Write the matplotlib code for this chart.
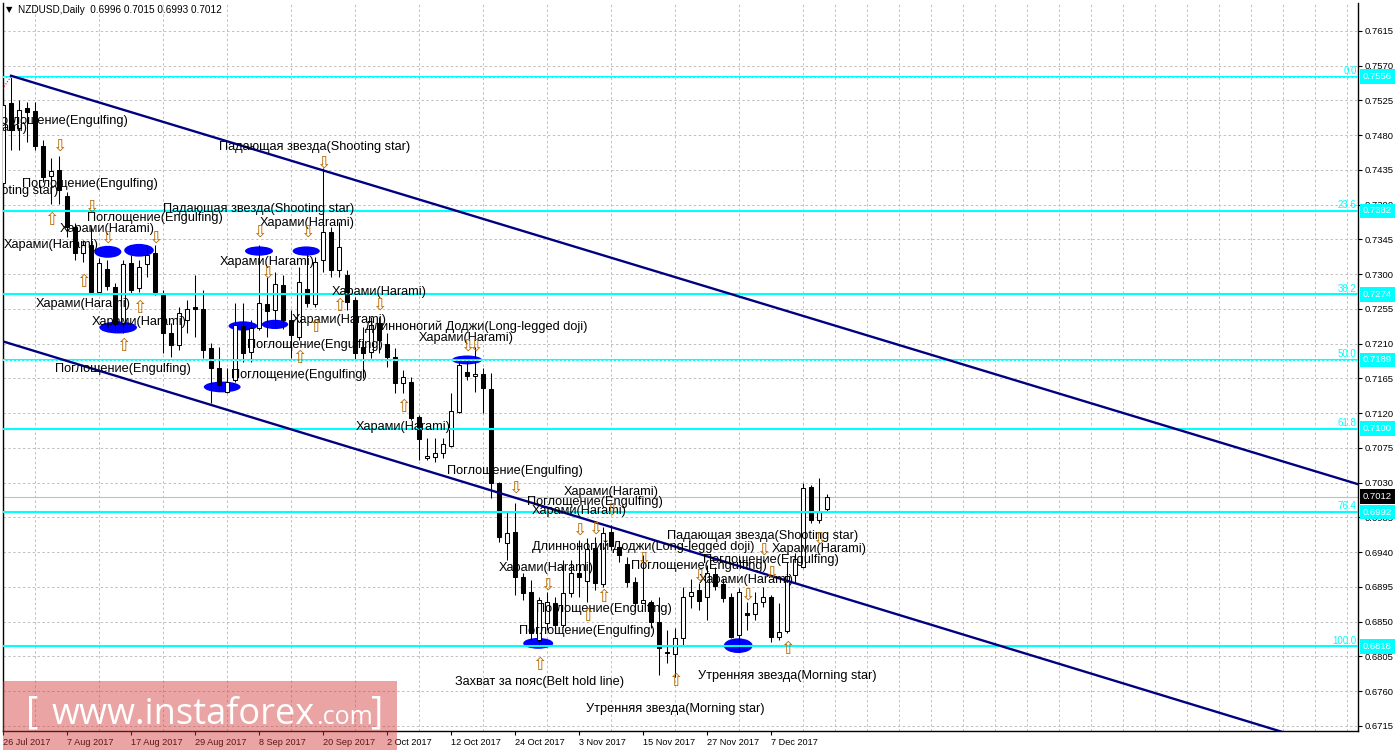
import matplotlib
matplotlib.use("Agg")
import matplotlib.pyplot as plt
import matplotlib.ticker as ticker
from matplotlib.patches import Ellipse, Rectangle
import numpy as np
import pandas as pd

plt.rcParams['font.family'] = ['Liberation Sans', 'DejaVu Sans']

##### Data #####

# Daily NZDUSD candles from 26 Jul 2017
opens = [
    0.7418, 0.7522, 0.7489, 0.7515, 0.7511, 0.7466, 0.7427, 0.7435, 0.7401, 0.7361,
    0.7327, 0.7338, 0.7277, 0.7307, 0.7283, 0.7237, 0.7315, 0.7282, 0.7313, 0.7327,
    0.7273, 0.7224, 0.7208, 0.7241, 0.7258, 0.7255, 0.7204, 0.7179, 0.7148, 0.7163,
    0.7233, 0.7199, 0.7230, 0.7261, 0.7254, 0.7286, 0.7241, 0.7219, 0.7281, 0.7261,
    0.7318, 0.7355, 0.7305, 0.7299, 0.7267, 0.7206, 0.7199, 0.7237, 0.7210, 0.7193,
    0.7159, 0.7160, 0.7115, 0.7062, 0.7063, 0.7069, 0.7078, 0.7122, 0.7173, 0.7168,
    0.7171, 0.7151, 0.7029, 0.6952, 0.6966, 0.6908, 0.6889, 0.6826, 0.6848, 0.6874,
    0.6846, 0.6887, 0.6913, 0.6903, 0.6945, 0.6899, 0.6966, 0.6947, 0.6925, 0.6902,
    0.6874, 0.6876, 0.6850, 0.6809, 0.6808, 0.6829, 0.6883, 0.6891, 0.6882, 0.6912,
    0.6899, 0.6882, 0.6833, 0.6861, 0.6860, 0.6876, 0.6882, 0.6830, 0.6838, 0.6910,
    0.6921, 0.7025, 0.6982, 0.6996]
highs = [
    0.7528, 0.7556, 0.7526, 0.7523, 0.7523, 0.7474, 0.7451, 0.7453, 0.7407, 0.7366,
    0.7344, 0.7361, 0.7321, 0.7318, 0.7289, 0.7318, 0.7325, 0.7318, 0.7335, 0.7338,
    0.7280, 0.7237, 0.7258, 0.7267, 0.7299, 0.7280, 0.7211, 0.7206, 0.7179, 0.7263,
    0.7263, 0.7241, 0.7338, 0.7296, 0.7303, 0.7299, 0.7254, 0.7309, 0.7327, 0.7322,
    0.7438, 0.7361, 0.7368, 0.7305, 0.7271, 0.7232, 0.7245, 0.7245, 0.7224, 0.7204,
    0.7176, 0.7167, 0.7118, 0.7088, 0.7088, 0.7088, 0.7146, 0.7193, 0.7192, 0.7206,
    0.7179, 0.7172, 0.7031, 0.6992, 0.7004, 0.6913, 0.6904, 0.6882, 0.6889, 0.6882,
    0.6930, 0.6930, 0.6956, 0.6958, 0.6960, 0.6973, 0.6975, 0.6953, 0.6934, 0.6908,
    0.6936, 0.6878, 0.6882, 0.6839, 0.6842, 0.6895, 0.6905, 0.6900, 0.6923, 0.6921,
    0.6907, 0.6887, 0.6894, 0.6876, 0.6889, 0.6895, 0.6885, 0.6874, 0.6927, 0.6939,
    0.7030, 0.7027, 0.7036, 0.7015]
lows = [
    0.7416, 0.7461, 0.7461, 0.7471, 0.7461, 0.7419, 0.7391, 0.7391, 0.7348, 0.7318,
    0.7316, 0.7276, 0.7276, 0.7280, 0.7228, 0.7224, 0.7276, 0.7277, 0.7296, 0.7273,
    0.7198, 0.7193, 0.7202, 0.7224, 0.7219, 0.7192, 0.7133, 0.7150, 0.7146, 0.7160,
    0.7186, 0.7186, 0.7228, 0.7219, 0.7230, 0.7229, 0.7192, 0.7215, 0.7258, 0.7258,
    0.7303, 0.7296, 0.7296, 0.7254, 0.7189, 0.7166, 0.7192, 0.7198, 0.7180, 0.7146,
    0.7146, 0.7111, 0.7059, 0.7059, 0.7057, 0.7062, 0.7076, 0.7120, 0.7163, 0.7148,
    0.7120, 0.7010, 0.6953, 0.6930, 0.6885, 0.6878, 0.6826, 0.6820, 0.6839, 0.6839,
    0.6843, 0.6882, 0.6882, 0.6876, 0.6891, 0.6895, 0.6943, 0.6927, 0.6895, 0.6865,
    0.6874, 0.6842, 0.6781, 0.6796, 0.6778, 0.6820, 0.6868, 0.6865, 0.6852, 0.6891,
    0.6876, 0.6829, 0.6811, 0.6839, 0.6852, 0.6869, 0.6824, 0.6826, 0.6835, 0.6900,
    0.6920, 0.6978, 0.6978, 0.6993]
closes = [
    0.7519, 0.7487, 0.7513, 0.7510, 0.7466, 0.7426, 0.7434, 0.7409, 0.7361, 0.7327,
    0.7338, 0.7277, 0.7315, 0.7285, 0.7236, 0.7313, 0.7280, 0.7309, 0.7325, 0.7277,
    0.7224, 0.7208, 0.7250, 0.7255, 0.7255, 0.7202, 0.7179, 0.7157, 0.7160, 0.7234,
    0.7198, 0.7230, 0.7263, 0.7252, 0.7287, 0.7241, 0.7221, 0.7290, 0.7263, 0.7316,
    0.7355, 0.7305, 0.7335, 0.7264, 0.7198, 0.7198, 0.7234, 0.7215, 0.7193, 0.7159,
    0.7167, 0.7114, 0.7087, 0.7065, 0.7069, 0.7080, 0.7123, 0.7182, 0.7168, 0.7171,
    0.7153, 0.7030, 0.6960, 0.6965, 0.6908, 0.6887, 0.6835, 0.6878, 0.6876, 0.6846,
    0.6887, 0.6913, 0.6908, 0.6944, 0.6900, 0.6965, 0.6948, 0.6936, 0.6902, 0.6874,
    0.6878, 0.6850, 0.6816, 0.6811, 0.6829, 0.6882, 0.6889, 0.6877, 0.6913, 0.6896,
    0.6881, 0.6830, 0.6889, 0.6859, 0.6874, 0.6882, 0.6830, 0.6837, 0.6909, 0.6931,
    0.7023, 0.6982, 0.6992, 0.7012]
start_date = '2017-07-26'
symbol_header = 'NZDUSD,Daily  0.6996 0.7015 0.6993 0.7012'
bid_price = 0.7012

# Fibonacci retracement levels
fib_levels = [0.7556, 0.7382, 0.7274, 0.7189, 0.7100, 0.6992, 0.6818]
fib_names = ['0.0', '23.6', '38.2', '50.0', '61.8', '76.4', '100.0']
fib_base_x = [1, -3]
fib_base_y = [0.7556, 0.7495]

# Descending channel (bar index, price)
upper_x = [1, 169.4]
upper_y = [0.7557, 0.7028]
lower_x = [0, 160]
lower_y = [0.7213, 0.6707]

# Candlestick pattern labels (text, bar, price)
ENG = 'Поглощение(Engulfing)'
HAR = 'Харами(Harami)'
SHS = 'Падающая звезда(Shooting star)'
LLD = 'Длинноногий Доджи(Long-legged doji)'
BHL = 'Захват за пояс(Belt hold line)'
MST = 'Утренняя звезда(Morning star)'
pattern_labels = [
    (ENG, 7.1, 0.7498), (HAR, -2.9, 0.7489), (SHS, -5.1, 0.7408), (ENG, 10.9, 0.7417),
    (ENG, 19.0, 0.7373), (SHS, 32.0, 0.7384), (HAR, 13.0, 0.7359), (HAR, 6.0, 0.7338),
    (HAR, 38.0, 0.7366), (SHS, 39.0, 0.7465), (HAR, 33.0, 0.7316), (HAR, 10.0, 0.7262),
    (HAR, 17.0, 0.7238), (ENG, 15.0, 0.7177), (ENG, 39.0, 0.7208), (ENG, 37.0, 0.7169),
    (HAR, 47.0, 0.7277), (HAR, 42.0, 0.7241), (LLD, 59.1, 0.7232), (HAR, 57.9, 0.7217),
    (HAR, 50.0, 0.7102), (ENG, 64.0, 0.7045), (HAR, 76.0, 0.7018), (ENG, 74.0, 0.7005),
    (HAR, 72.0, 0.6993), (LLD, 80.0, 0.6947), (HAR, 67.9, 0.6920), (ENG, 87.0, 0.6922),
    (ENG, 75.1, 0.6867), (ENG, 73.0, 0.6838), (BHL, 67.1, 0.6772), (MST, 84.1, 0.6737),
    (MST, 98.0, 0.6780), (SHS, 95.0, 0.6961), (HAR, 102.0, 0.6944), (ENG, 96.0, 0.6930),
    (HAR, 92.9, 0.6904)]

# Signal arrows (bar, price, direction)
signal_arrows = [
    (7, 0.7466, 'd'), (6, 0.7370, 'u'), (11, 0.7387, 'd'), (13, 0.7347, 'd'),
    (19, 0.7347, 'd'), (32, 0.7355, 'd'), (38, 0.7355, 'd'), (40, 0.7444, 'd'),
    (10, 0.7290, 'u'), (17, 0.7256, 'u'), (15, 0.7207, 'u'), (33, 0.7302, 'd'),
    (37, 0.7192, 'u'), (39, 0.7232, 'u'), (42, 0.7259, 'u'), (47, 0.7260, 'd'),
    (50, 0.7128, 'u'), (58, 0.7208, 'd'), (59, 0.7208, 'd'), (64, 0.7024, 'd'),
    (72, 0.6969, 'd'), (74, 0.6971, 'd'), (76, 0.6995, 'd'), (75, 0.6882, 'u'),
    (73, 0.6857, 'u'), (68, 0.6898, 'd'), (67, 0.6794, 'u'), (84, 0.6773, 'u'),
    (80, 0.6932, 'd'), (87, 0.6910, 'd'), (93, 0.6885, 'd'), (98, 0.6815, 'u'),
    (95, 0.6943, 'd'), (96, 0.6914, 'd'), (102, 0.6958, 'd')]

# Blue highlight ellipses (bar, price, width in bars, height in price)
highlights = [
    (13.1, 0.7329, 3.4, 0.00155), (17.0, 0.7331, 3.7, 0.00165), (14.4, 0.7231, 4.7, 0.00155),
    (32.0, 0.7330, 3.5, 0.0012), (37.9, 0.7330, 3.4, 0.0012), (30.0, 0.7233, 3.6, 0.0012),
    (34.0, 0.7235, 3.3, 0.0012), (27.4, 0.7154, 4.6, 0.0014), (58.0, 0.7189, 3.75, 0.00115),
    (66.9, 0.6822, 3.75, 0.0014), (91.9, 0.6819, 3.6, 0.0019)]

##### Figure #####

W, H = 1398, 750
fig = plt.figure(figsize=(W / 100, H / 100), dpi=100)
fig.patch.set_facecolor('white')
ax = fig.add_axes([2.5 / W, 19 / H, 1355.5 / W, 728 / H])

x = np.arange(len(opens))
o = np.array(opens); h = np.array(highs); l = np.array(lows); c = np.array(closes)
up = c >= o
body_bottom = np.minimum(o, c)
body_h = np.maximum(np.abs(c - o), 0.00003)

# Candles
ax.vlines(x, l, h, color='black', lw=0.75, zorder=3)
ax.bar(x[up], body_h[up], bottom=body_bottom[up], width=0.62, color='white',
       edgecolor='black', linewidth=0.75, zorder=4)
ax.bar(x[~up], body_h[~up], bottom=body_bottom[~up], width=0.62, color='black',
       edgecolor='black', linewidth=0.75, zorder=4)

# Highlight ellipses under candles
for bx, py, ew, eh in highlights:
    ax.add_patch(Ellipse((bx, py), ew, eh, facecolor='#0000ff', edgecolor='none', zorder=2))

# Fibonacci levels
for lvl, name in zip(fib_levels, fib_names):
    ax.axhline(lvl, color='#00ffff', lw=1.5, zorder=5)
    if name in ('0.0', '50.0'):
        ax.axhline(lvl, color='white', lw=0.5, ls=(0, (3, 3)), zorder=5.1)
    ax.annotate(name, xy=(1, lvl), xycoords=('axes fraction', 'data'), xytext=(-1, 0.5),
                textcoords='offset points', ha='right', va='bottom', color='#00ffff',
                fontsize=7, zorder=6)
    ax.annotate('%.4f' % lvl, xy=(1, lvl), xycoords=('axes fraction', 'data'), xytext=(3.5, 0),
                textcoords='offset points', ha='left', va='center', color='white',
                fontsize=6.8, annotation_clip=False, zorder=10,
                bbox=dict(boxstyle='square,pad=0.3', fc='#00ffff', ec='none'))
ax.plot(fib_base_x, fib_base_y, color='red', lw=0.8, ls=(0, (1, 1.5)), zorder=5)

# Bid line
ax.axhline(bid_price, color='#c0c0c0', lw=0.8, zorder=1)
ax.annotate('%.4f' % bid_price, xy=(1, bid_price), xycoords=('axes fraction', 'data'),
            xytext=(3.5, 0), textcoords='offset points', ha='left', va='center', color='white',
            fontsize=6.8, annotation_clip=False, zorder=10,
            bbox=dict(boxstyle='square,pad=0.3', fc='black', ec='none'))

# Channel
ax.plot(upper_x, upper_y, color='#000080', lw=1.7, zorder=5.5)
ax.plot(lower_x, lower_y, color='#000080', lw=1.7, zorder=5.5)

# Pattern labels and arrows
for txt, bx, py in pattern_labels:
    ax.text(bx, py, txt, ha='center', va='center', fontsize=9.2, color='black',
            zorder=7, clip_on=True)
for bx, py, d in signal_arrows:
    ax.text(bx, py, '⇧' if d == 'u' else '⇩', ha='center', va='center', fontsize=12.5,
            color='#b86a00', family='DejaVu Sans', zorder=7, clip_on=True)

# Axes, ticks and grid
ax.set_xlim(-0.0625, 169.375)
ax.set_ylim(0.67085, 0.76512)

yticks = np.round(np.arange(0.6715, 0.7616, 0.0045), 4)
ax.set_yticks(yticks)
ax.yaxis.tick_right()
ax.yaxis.set_major_formatter(ticker.FormatStrFormatter('%.4f'))
ax.tick_params(axis='y', length=3, width=0.8, pad=2, labelsize=6.8, colors='black')

dates = pd.bdate_range(start_date, periods=len(opens))
label_pos = np.arange(0, len(opens), 8)
ax.set_xticks(label_pos)
ax.set_xticklabels(['%d %s %d' % (dates[i].day, dates[i].strftime('%b'), dates[i].year)
                    for i in label_pos], fontsize=6.6)
for lab in ax.get_xticklabels():
    lab.set_ha('left')
ax.xaxis.set_minor_locator(ticker.MultipleLocator(4))
ax.tick_params(axis='x', which='major', length=3, width=0.8, pad=2)
ax.tick_params(axis='x', which='minor', length=0)

ax.grid(which='minor', axis='x', color='#c0c0c0', lw=0.7, ls=(0, (2.5, 2.5)), zorder=0)
ax.grid(which='major', axis='y', color='#c0c0c0', lw=0.7, ls=(0, (2.5, 2.5)), zorder=0)
ax.set_axisbelow(True)

ax.spines['top'].set_visible(False)
for s in ('left', 'right', 'bottom'):
    ax.spines[s].set_color('black')
    ax.spines[s].set_linewidth(1.0)

# Header
fig.text(6 / W, 1 - 10 / H, '▼', fontsize=6, va='center', ha='left', family='DejaVu Sans')
fig.text(18 / W, 1 - 10 / H, symbol_header, fontsize=7.2, va='center', ha='left')

# Watermark overlay
fig.patches.append(Rectangle((3 / W, 0), 394 / W, 69 / H, transform=fig.transFigure,
                             facecolor='#d33535', alpha=0.45, edgecolor='none', zorder=20))
fig.text(26 / W, 1 - 713 / H, '[', fontsize=27, color='white', va='center', ha='left',
         family='Open Sans', zorder=21)
fig.text(52 / W, 1 - 724 / H, 'www.instaforex', fontsize=26, color='white', va='baseline',
         ha='left', family='Open Sans', zorder=21)
fig.text(316 / W, 1 - 724 / H, '.com', fontsize=18, color='white', va='baseline',
         ha='left', family='Open Sans', zorder=21)
fig.text(370 / W, 1 - 713 / H, ']', fontsize=27, color='white', va='center', ha='left',
         family='Open Sans', zorder=21)

fig.savefig('out.png', dpi=100)
